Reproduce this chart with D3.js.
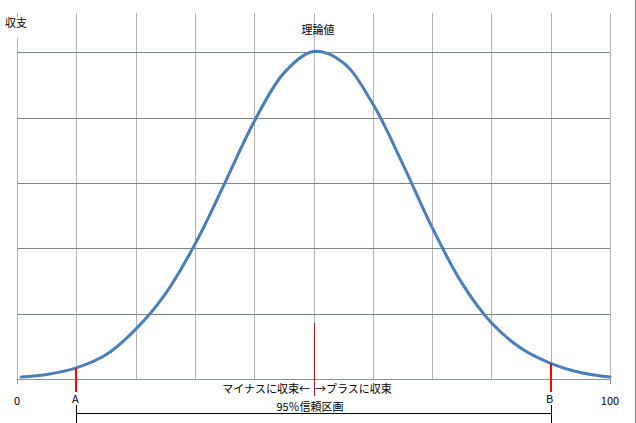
<!DOCTYPE html>
<html><head><meta charset="utf-8">
<script src="https://cdn.jsdelivr.net/npm/d3@7"></script>
<style>
html,body{margin:0;padding:0;background:#fff;}
svg{display:block;}
text{font-family:"Noto Sans CJK JP","Noto Sans",sans-serif;fill:#000;}
</style></head>
<body>
<script>
// ---- data ----
const xValues = [0.7,5,10,15,20,25,30,35,40,45,50,55,60,65,70,75,80,85,90,95,100];
const yValues = [0.03,0.07,0.17,0.37,0.76,1.3,2.06,2.99,3.94,4.68,5.01,4.84,4.21,3.30,2.32,1.47,0.86,0.47,0.24,0.10,0.03];
const xGridTicks = [0,10,20,30,40,50,60,70,80,90,100];
const yGridTicks = [1,2,3,4,5];
const axisEndLabels = [{v:0,t:"0"},{v:100,t:"100"}];
const bounds = [{v:10,t:"A"},{v:90,t:"B"}];
const centerValue = 50;
const yTitle = "収支";
const peakLabel = "理論値";
const leftNote = "マイナスに収束←";
const rightNote = "→プラスに収束";
const intervalLabel = "95％信頼区画";

// ---- drawing ----
const W = 636, H = 423;
const svg = d3.select("body").append("svg").attr("width", W).attr("height", H);
const x = d3.scaleLinear().domain([0,100]).range([17,610]);
const y = d3.scaleLinear().domain([0,5.6]).range([379,13]);

// vertical grid
svg.append("g").selectAll("line").data(xGridTicks).join("line")
  .attr("x1", d=>Math.round(x(d))+0.5).attr("x2", d=>Math.round(x(d))+0.5)
  .attr("y1", y(5.6)).attr("y2", y(0))
  .attr("stroke", "#b4b4b4").attr("stroke-width", 1);
// horizontal grid
svg.append("g").selectAll("line").data(yGridTicks).join("line")
  .attr("x1", x(0)).attr("x2", x(100))
  .attr("y1", d=>Math.round(y(d))+0.5).attr("y2", d=>Math.round(y(d))+0.5)
  .attr("stroke", "#7d8686").attr("stroke-width", 1);
// x axis line + end ticks
svg.append("line").attr("x1", x(0)).attr("x2", x(100))
  .attr("y1", Math.round(y(0))+0.5).attr("y2", Math.round(y(0))+0.5)
  .attr("stroke", "#8c9494");
svg.append("g").selectAll("line").data([0,100]).join("line")
  .attr("x1", d=>Math.round(x(d))+0.5).attr("x2", d=>Math.round(x(d))+0.5)
  .attr("y1", y(0)).attr("y2", y(0)+5).attr("stroke", "#8c9494");

// right border
svg.append("line").attr("x1", W-0.5).attr("x2", W-0.5).attr("y1", 0).attr("y2", H)
  .attr("stroke", "#7d8686");

// curve
const line = d3.line().x((d,i)=>x(xValues[i])).y(d=>y(d)).curve(d3.curveCatmullRom.alpha(0.5));
svg.append("path").datum(yValues).attr("d", line)
  .attr("fill", "none").attr("stroke", "#4a7ebb").attr("stroke-width", 3)
  .attr("stroke-linecap", "round");

// center line
svg.append("line").attr("x1", Math.round(x(centerValue))+0.5).attr("x2", Math.round(x(centerValue))+0.5)
  .attr("y1", 323).attr("y2", 396).attr("stroke", "#b01020").attr("stroke-width", 1);

// bound red markers
const valAt = v => { const i = xValues.indexOf(v); return yValues[i]; };
svg.append("g").selectAll("line").data(bounds).join("line")
  .attr("x1", d=>Math.round(x(d.v))).attr("x2", d=>Math.round(x(d.v)))
  .attr("y1", d=>y(valAt(d.v))).attr("y2", 392)
  .attr("stroke", "#ff0000").attr("stroke-width", 2);

// interval bracket
const bx1 = Math.round(x(bounds[0].v))+0.5, bx2 = Math.round(x(bounds[1].v))+0.5;
svg.append("line").attr("x1", bx1).attr("x2", bx2).attr("y1", 413.5).attr("y2", 413.5).attr("stroke", "#000");
svg.append("line").attr("x1", bx1).attr("x2", bx1).attr("y1", 405).attr("y2", H).attr("stroke", "#000");
svg.append("line").attr("x1", bx2).attr("x2", bx2).attr("y1", 405).attr("y2", H).attr("stroke", "#000");

// labels
svg.append("rect").attr("x", 4).attr("y", 17).attr("width", 24).attr("height", 21).attr("fill", "#fff");
svg.append("text").attr("x", 5).attr("y", 27).attr("font-size", 11).text(yTitle);
svg.append("text").attr("x", 318).attr("y", 34).attr("font-size", 11).attr("text-anchor", "middle").text(peakLabel);
svg.append("g").selectAll("text").data(axisEndLabels).join("text")
  .attr("x", d=>x(d.v)).attr("y", 405).attr("font-size", 11).attr("text-anchor", "middle").text(d=>d.t);
svg.append("g").selectAll("text").data(bounds).join("text")
  .attr("x", d=>x(d.v)-1).attr("y", 403).attr("font-size", 11).attr("text-anchor", "middle").text(d=>d.t);
svg.append("text").attr("x", 310).attr("y", 393).attr("font-size", 11).attr("text-anchor", "end").text(leftNote);
svg.append("text").attr("x", 315).attr("y", 393).attr("font-size", 11).attr("text-anchor", "start").text(rightNote);
svg.append("text").attr("x", 310).attr("y", 411).attr("font-size", 11).attr("text-anchor", "middle").text(intervalLabel);
</script>
</body></html>
